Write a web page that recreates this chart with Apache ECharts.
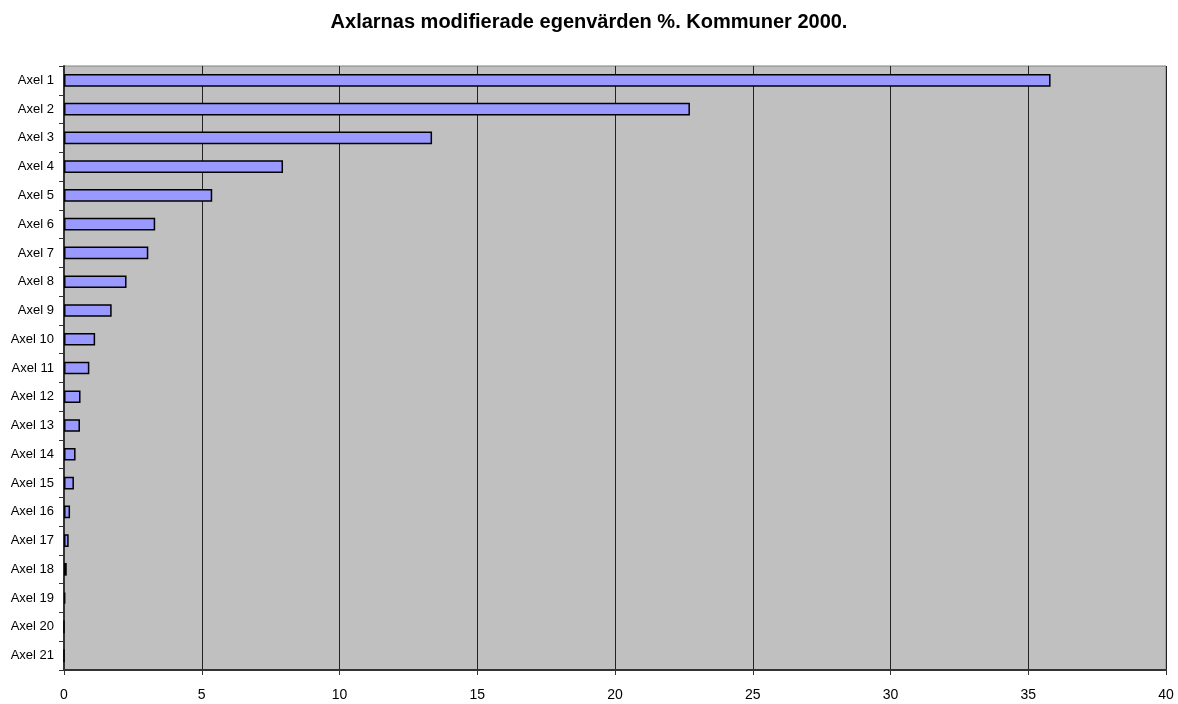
<!DOCTYPE html>
<html>
<head>
<meta charset="utf-8">
<script src="https://cdn.jsdelivr.net/npm/echarts@6/dist/echarts.min.js"></script>
<style>html,body{margin:0;padding:0;background:#fff;}#chart{width:1178px;height:704px;}</style>
</head>
<body>
<div id="chart"></div>
<script>
const titleText = 'Axlarnas modifierade egenvärden %. Kommuner 2000.';
const categories = ['Axel 1','Axel 2','Axel 3','Axel 4','Axel 5','Axel 6','Axel 7','Axel 8','Axel 9','Axel 10','Axel 11','Axel 12','Axel 13','Axel 14','Axel 15','Axel 16','Axel 17','Axel 18','Axel 19','Axel 20','Axel 21'];
const values = [35.81, 22.72, 13.36, 7.95, 5.38, 3.31, 3.06, 2.27, 1.73, 1.13, 0.92, 0.60, 0.58, 0.42, 0.36, 0.22, 0.17, 0.10, 0.05, 0, 0];
const xTicks = [0, 5, 10, 15, 20, 25, 30, 35, 40];

const chart = echarts.init(document.getElementById('chart'), null, {renderer: 'canvas'});
chart.setOption({
  animation: false,
  backgroundColor: '#ffffff',
  title: {
    text: titleText,
    left: 'center',
    top: 7,
    textStyle: {fontFamily: 'Liberation Sans, Arial, sans-serif', fontSize: 20, fontWeight: 'bold', color: '#000'}
  },
  grid: {
    left: 64, right: 12, top: 66, bottom: 34,
    show: true, backgroundColor: '#c0c0c0', borderColor: '#808080', borderWidth: 1
  },
  xAxis: {
    type: 'value',
    min: xTicks[0], max: xTicks[xTicks.length - 1], interval: 5,
    axisLine: {show: true, lineStyle: {color: '#333', width: 2}},
    axisTick: {show: true, length: 5, lineStyle: {color: '#333'}},
    axisLabel: {margin: 18, fontFamily: 'Liberation Sans, Arial, sans-serif', fontSize: 14, color: '#000'},
    splitLine: {show: true, lineStyle: {color: '#222', width: 1}}
  },
  yAxis: {
    type: 'category',
    data: categories,
    inverse: true,
    axisLine: {show: true, lineStyle: {color: '#333', width: 2}},
    axisTick: {show: true, length: 5, lineStyle: {color: '#333'}},
    axisLabel: {margin: 10, fontFamily: 'Liberation Sans, Arial, sans-serif', fontSize: 13, color: '#000'},
    splitLine: {show: false}
  },
  series: [{
    type: 'bar',
    data: values,
    barCategoryGap: '56%',
    itemStyle: {color: '#9999ff', borderColor: '#000', borderWidth: 1.5},
    emphasis: {disabled: true}
  }]
});
</script>
</body>
</html>
